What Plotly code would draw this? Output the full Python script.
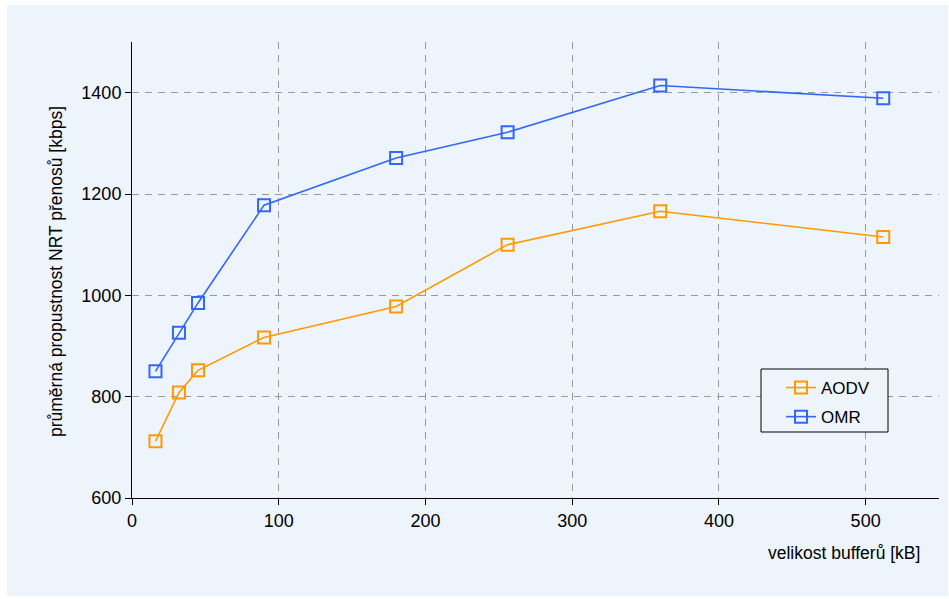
import plotly.graph_objects as go

# Buffer sizes [kB] and mean NRT throughput [kbps]
buffer_kb = [16, 32, 45, 90, 180, 256, 360, 512]
aodv_kbps = [712, 808, 852, 917, 978, 1100, 1166, 1115]
omr_kbps = [850, 926, 985, 1178, 1271, 1322, 1414, 1389]

x_ticks = [0, 100, 200, 300, 400, 500]
y_ticks = [600, 800, 1000, 1200, 1400]

FONT = "Liberation Sans, Arial, sans-serif"
PANEL = "#EDF4FC"
ORANGE = "#FF9900"
BLUE = "#3366FF"

fig = go.Figure()
fig.add_trace(go.Scatter(
    x=buffer_kb, y=aodv_kbps, name="AODV", legendgroup="a",
    mode="lines+markers",
    line=dict(color=ORANGE, width=1.6),
    marker=dict(symbol="square-open", size=12, color=ORANGE, line=dict(width=2)),
))
fig.add_trace(go.Scatter(
    x=buffer_kb, y=omr_kbps, name="OMR", legendgroup="b",
    mode="lines+markers",
    line=dict(color=BLUE, width=1.6),
    marker=dict(symbol="square-open", size=12, color=BLUE, line=dict(width=2)),
))

L, R, T, B = 132, 10, 42, 101
W, H = 949, 599
pw, ph = W - L - R, H - T - B

def px_x(p):
    return (p - L) / pw

def px_y(p):
    return (H - B - p) / ph

# light panel behind the whole chart, leaving a thin white rim
fig.add_shape(type="rect", xref="paper", yref="paper", layer="below",
              x0=px_x(7), x1=px_x(948), y0=px_y(596), y1=px_y(5),
              line=dict(width=0), fillcolor=PANEL)

# framed box behind the legend entries
fig.add_shape(type="rect", xref="paper", yref="paper", layer="above",
              x0=px_x(761), x1=px_x(888), y0=px_y(432), y1=px_y(369),
              line=dict(width=1, color="#000"), fillcolor=PANEL)

fig.add_annotation(text="velikost bufferů [kB]", xref="paper", yref="paper",
                   x=px_x(922), y=px_y(553), xanchor="right", yanchor="middle",
                   showarrow=False, font=dict(family=FONT, size=17.5, color="#000"))
fig.add_annotation(text="průměrná propustnost NRT přenosů [kbps]", xref="paper", yref="paper",
                   x=px_x(56), y=px_y(272), xanchor="center", yanchor="middle",
                   textangle=-90, showarrow=False,
                   font=dict(family=FONT, size=17.5, color="#000"))

axis_common = dict(
    showline=True, linecolor="#000", linewidth=1,
    ticks="outside", ticklen=6, tickcolor="#000", tickwidth=1,
    showgrid=True, gridcolor="#999999", gridwidth=1, griddash="7px,6px",
    zeroline=False,
    tickfont=dict(family=FONT, size=18, color="#000"),
)

fig.update_xaxes(range=[0, 550], tickvals=x_ticks, ticktext=[str(v) for v in x_ticks],
                 **axis_common)
fig.update_yaxes(range=[600, 1500], tickvals=y_ticks, ticktext=[str(v) for v in y_ticks],
                 **axis_common)

fig.update_layout(
    width=W, height=H,
    margin=dict(l=L, r=R, t=T, b=B, pad=0),
    paper_bgcolor="white", plot_bgcolor=PANEL,
    font=dict(family=FONT, size=17, color="#000"),
    showlegend=True,
    legend=dict(
        x=px_x(781), y=px_y(370), xanchor="left", yanchor="top",
        bgcolor="rgba(0,0,0,0)", borderwidth=0,
        font=dict(family=FONT, size=17, color="#000"),
        traceorder="grouped", tracegroupgap=4,
    ),
)

fig.write_html("out.html")
